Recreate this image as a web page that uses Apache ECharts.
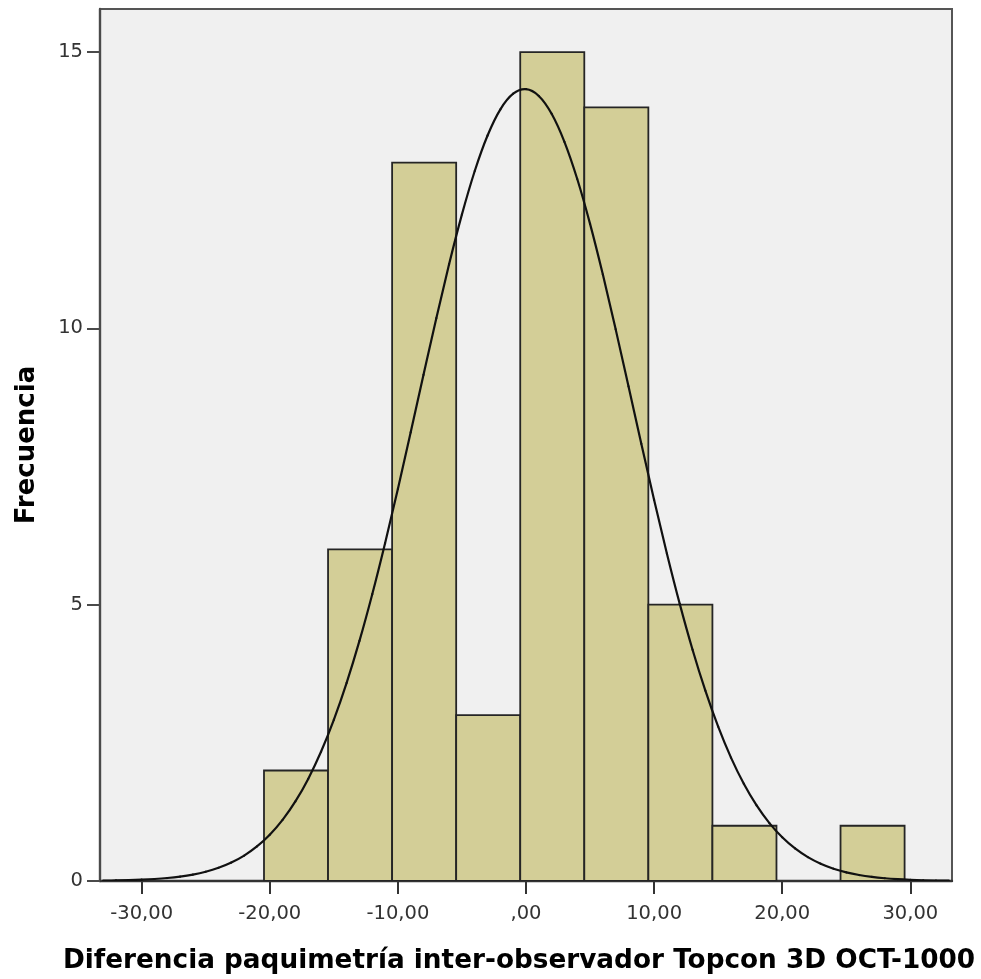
<!DOCTYPE html>
<html>
<head>
<meta charset="utf-8">
<script src="https://cdn.jsdelivr.net/npm/echarts@6/dist/echarts.min.js"></script>
<style>
  html, body { margin: 0; padding: 0; background: #ffffff; }
  #chart { width: 981px; height: 979px; }
</style>
</head>
<body>
<div id="chart"></div>
<script>
// Histogram bin edges (units of the measured difference) and counts per bin
const binEdges = [-20.45, -15.45, -10.45, -5.45, -0.45, 4.55, 9.55, 14.55, 19.55, 24.55, 29.55];
const binCounts = [2, 6, 13, 3, 15, 14, 5, 1, 0, 1];

// Fitted normal curve, sampled once per unit along the x range
const curveX = [-33, -32, -31, -30, -29, -28, -27, -26, -25, -24, -23, -22, -21, -20, -19, -18, -17,
                -16, -15, -14, -13, -12, -11, -10, -9, -8, -7, -6, -5, -4, -3, -2, -1, 0,
                1, 2, 3, 4, 5, 6, 7, 8, 9, 10, 11, 12, 13, 14, 15, 16, 17,
                18, 19, 20, 21, 22, 23, 24, 25, 26, 27, 28, 29, 30, 31, 32, 33];
const curveY = [0.0061, 0.0097, 0.0152, 0.0235, 0.0359, 0.0539, 0.0799, 0.1167, 0.1680, 0.2383,
                0.3334, 0.4597, 0.6248, 0.8372, 1.1058, 1.4400, 1.8479, 2.3383, 2.9159, 3.5850, 4.3447,
                5.1903, 6.1123, 7.0956, 8.1197, 9.1594, 10.185, 11.164, 12.063, 12.849, 13.491, 13.964,
                14.247, 14.329, 14.206, 13.884, 13.376, 12.703, 11.892, 10.974, 9.9825, 8.9516, 7.9128,
                6.8949, 5.9224, 5.0147, 4.1856, 3.4438, 2.7932, 2.2332, 1.7600, 1.3674, 1.0472, 0.7905,
                0.5883, 0.4316, 0.3121, 0.2225, 0.1563, 0.1083, 0.0739, 0.0498, 0.0330, 0.0216, 0.0139,
                0.0089, 0.0055];

// Axis ticks and their printed labels
const xTickValues = [-30, -20, -10, 0, 10, 20, 30];
const xTickLabels = ['-30,00', '-20,00', '-10,00', ',00', '10,00', '20,00', '30,00'];
const yTickValues = [0, 5, 10, 15];
const yTickLabels = ['0', '5', '10', '15'];

const xTitle = 'Diferencia paquimetría inter-observador Topcon 3D OCT-1000';
const yTitle = 'Frecuencia';

const barData = [];
for (let i = 0; i < binCounts.length; i++) {
  if (binCounts[i] > 0) barData.push([binEdges[i], binEdges[i + 1], binCounts[i]]);
}

const chart = echarts.init(document.getElementById('chart'), null, { renderer: 'canvas' });

const tickFont = { fontFamily: 'DejaVu Sans', fontSize: 19.5, color: '#333333' };

// Draws the sampled curve as a chain of cubic Bézier segments (Catmull-Rom tangents)
function renderCurve(params, api) {
  const pts = curveX.map((x, i) => api.coord([x, curveY[i]]));
  const n = pts.length;
  const children = [];
  for (let i = 0; i < n - 1; i++) {
    const p0 = pts[Math.max(i - 1, 0)];
    const p1 = pts[i];
    const p2 = pts[i + 1];
    const p3 = pts[Math.min(i + 2, n - 1)];
    children.push({
      type: 'bezierCurve',
      shape: {
        x1: p1[0], y1: p1[1],
        x2: p2[0], y2: p2[1],
        cpx1: p1[0] + (p2[0] - p0[0]) / 6, cpy1: p1[1] + (p2[1] - p0[1]) / 6,
        cpx2: p2[0] - (p3[0] - p1[0]) / 6, cpy2: p2[1] - (p3[1] - p1[1]) / 6
      },
      style: { fill: null, stroke: '#111111', lineWidth: 2.2, lineCap: 'round' }
    });
  }
  return { type: 'group', children: children };
}

chart.setOption({
  animation: false,
  backgroundColor: '#ffffff',
  grid: {
    left: 100, right: 29, top: 9, bottom: 96,
    show: true,
    backgroundColor: '#f0f0f0',
    borderColor: '#555555',
    borderWidth: 2
  },
  xAxis: {
    type: 'value',
    min: -33.25, max: 33.25,
    name: xTitle,
    nameLocation: 'middle',
    nameGap: 67,
    nameTextStyle: {
      fontFamily: 'DejaVu Sans', fontWeight: 'bold', fontSize: 26.3, color: '#000000',
      padding: [0, 14, 0, 0]
    },
    axisLine: { show: true, onZero: false, lineStyle: { color: '#333333', width: 2.4 } },
    axisTick: { show: true, length: 13, customValues: xTickValues, lineStyle: { color: '#333333', width: 2 } },
    axisLabel: Object.assign({
      margin: 23,
      customValues: xTickValues,
      formatter: v => xTickLabels[xTickValues.indexOf(v)] || ''
    }, tickFont),
    splitLine: { show: false }
  },
  yAxis: {
    type: 'value',
    min: 0, max: 15.78,
    name: yTitle,
    nameLocation: 'middle',
    nameGap: 60,
    nameRotate: 90,
    nameTextStyle: { fontFamily: 'DejaVu Sans', fontWeight: 'bold', fontSize: 26, color: '#000000' },
    axisLine: { show: true, onZero: false, lineStyle: { color: '#4a4a4a', width: 2.4 } },
    axisTick: { show: true, length: 13, customValues: yTickValues, lineStyle: { color: '#4a4a4a', width: 2 } },
    axisLabel: Object.assign({
      margin: 17,
      customValues: yTickValues,
      formatter: v => yTickLabels[yTickValues.indexOf(v)] || ''
    }, tickFont),
    splitLine: { show: false }
  },
  series: [
    {
      type: 'custom',
      name: 'Frecuencia',
      data: barData,
      encode: { x: [0, 1], y: 2 },
      clip: true,
      z: 2,
      renderItem: function (params, api) {
        const top = api.coord([api.value(0), api.value(2)]);
        const bottom = api.coord([api.value(1), 0]);
        return {
          type: 'rect',
          shape: { x: top[0], y: top[1], width: bottom[0] - top[0], height: bottom[1] - top[1] },
          style: { fill: '#d3ce97', stroke: '#252525', lineWidth: 1.8 }
        };
      }
    },
    {
      type: 'custom',
      name: 'Normal',
      data: [[curveX[0], curveY[0]]],
      encode: { x: 0, y: 1 },
      clip: true,
      z: 3,
      silent: true,
      renderItem: renderCurve
    }
  ]
});
</script>
</body>
</html>
